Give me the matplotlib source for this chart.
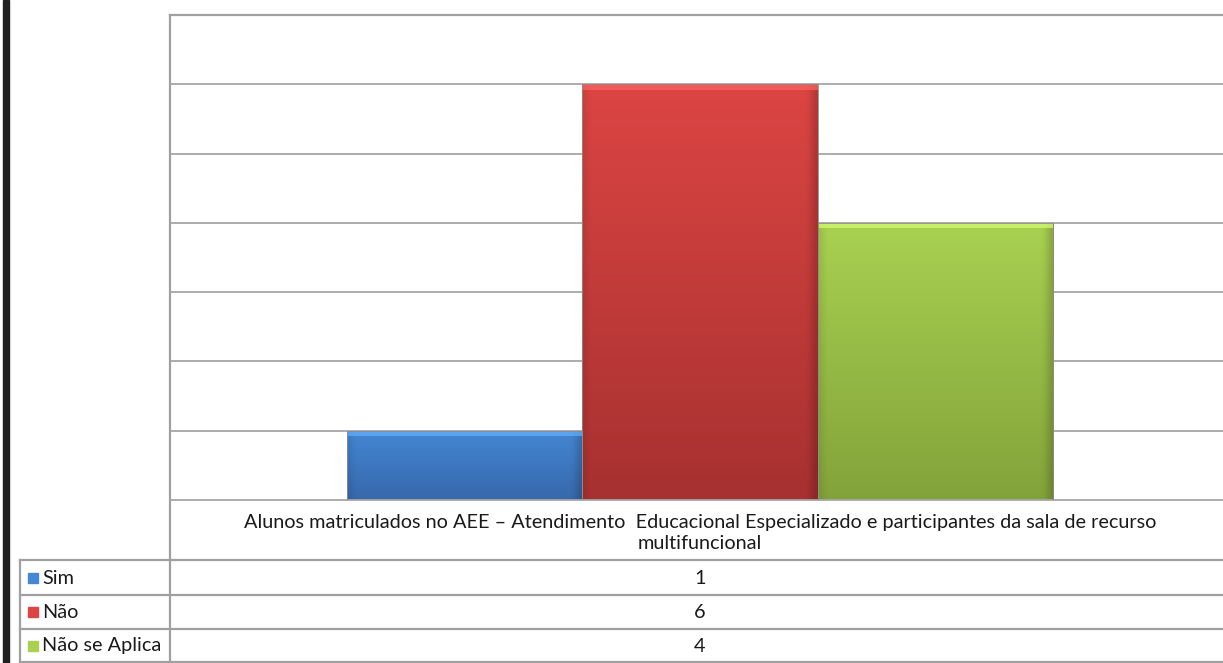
import numpy as np
import matplotlib.pyplot as plt
from matplotlib.patches import Rectangle
from matplotlib.lines import Line2D
from matplotlib.colors import to_rgb

# Dados
categoria = "Alunos matriculados no AEE – Atendimento  Educacional Especializado e participantes da sala de recurso\nmultifuncional"
series = ["Sim", "Não", "Não se Aplica"]
valores = [1, 6, 4]
cores_topo = ["#4487d4", "#dc4543", "#a9d151"]
cores_base = ["#3768ab", "#a63130", "#82a33a"]

W, H = 1223, 663
plt.rcParams['font.family'] = ['Lato', 'DejaVu Sans']

fig = plt.figure(figsize=(W / 100, H / 100), dpi=100)
fig.patch.set_facecolor("white")


def fx(px):
    return px / W


def fy(py):
    return 1 - py / H


# area do grafico
ax = fig.add_axes([fx(170), fy(500), 1060 / W, 485 / H])
ax.set_xlim(0, 1)
ax.set_ylim(0, 7)
ax.set_yticks(np.arange(1, 8))
ax.yaxis.grid(True, color="#a6a6a6", linewidth=1.3)
ax.set_axisbelow(True)
ax.tick_params(left=False, bottom=False, labelleft=False, labelbottom=False)
for s in ["top", "right", "left"]:
    ax.spines[s].set_visible(False)
ax.spines["bottom"].set_color("#a6a6a6")
ax.spines["bottom"].set_linewidth(1.3)

# barras (gap 150%)
n = len(valores)
largura = 1 / (n + 1.5)
posicoes = 0.5 + (np.arange(n) - (n - 1) / 2) * largura
barras = ax.bar(posicoes, valores, width=largura, color="none", edgecolor="none", zorder=2)

for b, c1, c2 in zip(barras, cores_topo, cores_base):
    x0, y0, w, h = b.get_x(), b.get_y(), b.get_width(), b.get_height()
    c1 = np.array(to_rgb(c1))
    c2 = np.array(to_rgb(c2))
    t = np.linspace(0, 1, 200)[:, None]
    img = c1[None, :] * (1 - t) + c2[None, :] * t
    img = np.repeat(img[:, None, :], 60, axis=1)
    # bordas laterais mais escuras
    u = np.linspace(0, 1, 60)
    borda = 1 - 0.18 * np.clip((u - 0.96) / 0.04, 0, 1) - 0.08 * np.clip((0.03 - u) / 0.03, 0, 1)
    img = img * borda[None, :, None]
    im = ax.imshow(np.clip(img, 0, 1), extent=(x0, x0 + w, y0, y0 + h), aspect="auto",
                   interpolation="bilinear", zorder=2)
    im.set_clip_path(b)
    # brilho no topo
    topo = np.clip(c1 * 1.15 + 0.08, 0, 1)
    ax.add_patch(Rectangle((x0, y0 + h - 0.08), w, 0.08, color=topo, alpha=0.7, zorder=3, linewidth=0))
    ax.add_patch(Rectangle((x0, y0), w, h, fill=False, edgecolor="#8c8c8c", linewidth=0.6, zorder=4))

# faixa preta a esquerda
fig.add_artist(Rectangle((fx(3), 0), fx(9) - fx(3), 1, color="#202020", transform=fig.transFigure))

# linhas da tabela
cinza = "#a0a0a0"
lw = 1.6
fig.add_artist(Line2D([fx(170), fx(170)], [fy(15), fy(662)], color=cinza, lw=lw))
fig.add_artist(Line2D([fx(170), 1], [fy(15), fy(15)], color=cinza, lw=lw))
fig.add_artist(Line2D([fx(20), fx(20)], [fy(560), fy(662)], color=cinza, lw=lw))
for py in [560, 595, 629, 662]:
    fig.add_artist(Line2D([fx(20), 1], [fy(py), fy(py)], color=cinza, lw=lw))

# rotulo da categoria
fig.text(fx(700), fy(533), categoria, ha="center", va="center", fontsize=14.3,
         color="#1a1a1a", linespacing=1.32)

# linhas da tabela de dados
linhas_y = [578, 612, 646]
for nome, v, c1, c2, py in zip(series, valores, cores_topo, cores_base, linhas_y):
    fig.add_artist(Rectangle((fx(28), fy(py + 5)), fx(38) - fx(28), fy(py - 5) - fy(py + 5),
                             color=c1, transform=fig.transFigure))
    fig.text(fx(42), fy(py), nome, ha="left", va="center", fontsize=14.3, color="#1a1a1a")
    fig.text(fx(700), fy(py), str(v), ha="center", va="center", fontsize=14.3, color="#1a1a1a")

fig.savefig("out.png", dpi=100)
